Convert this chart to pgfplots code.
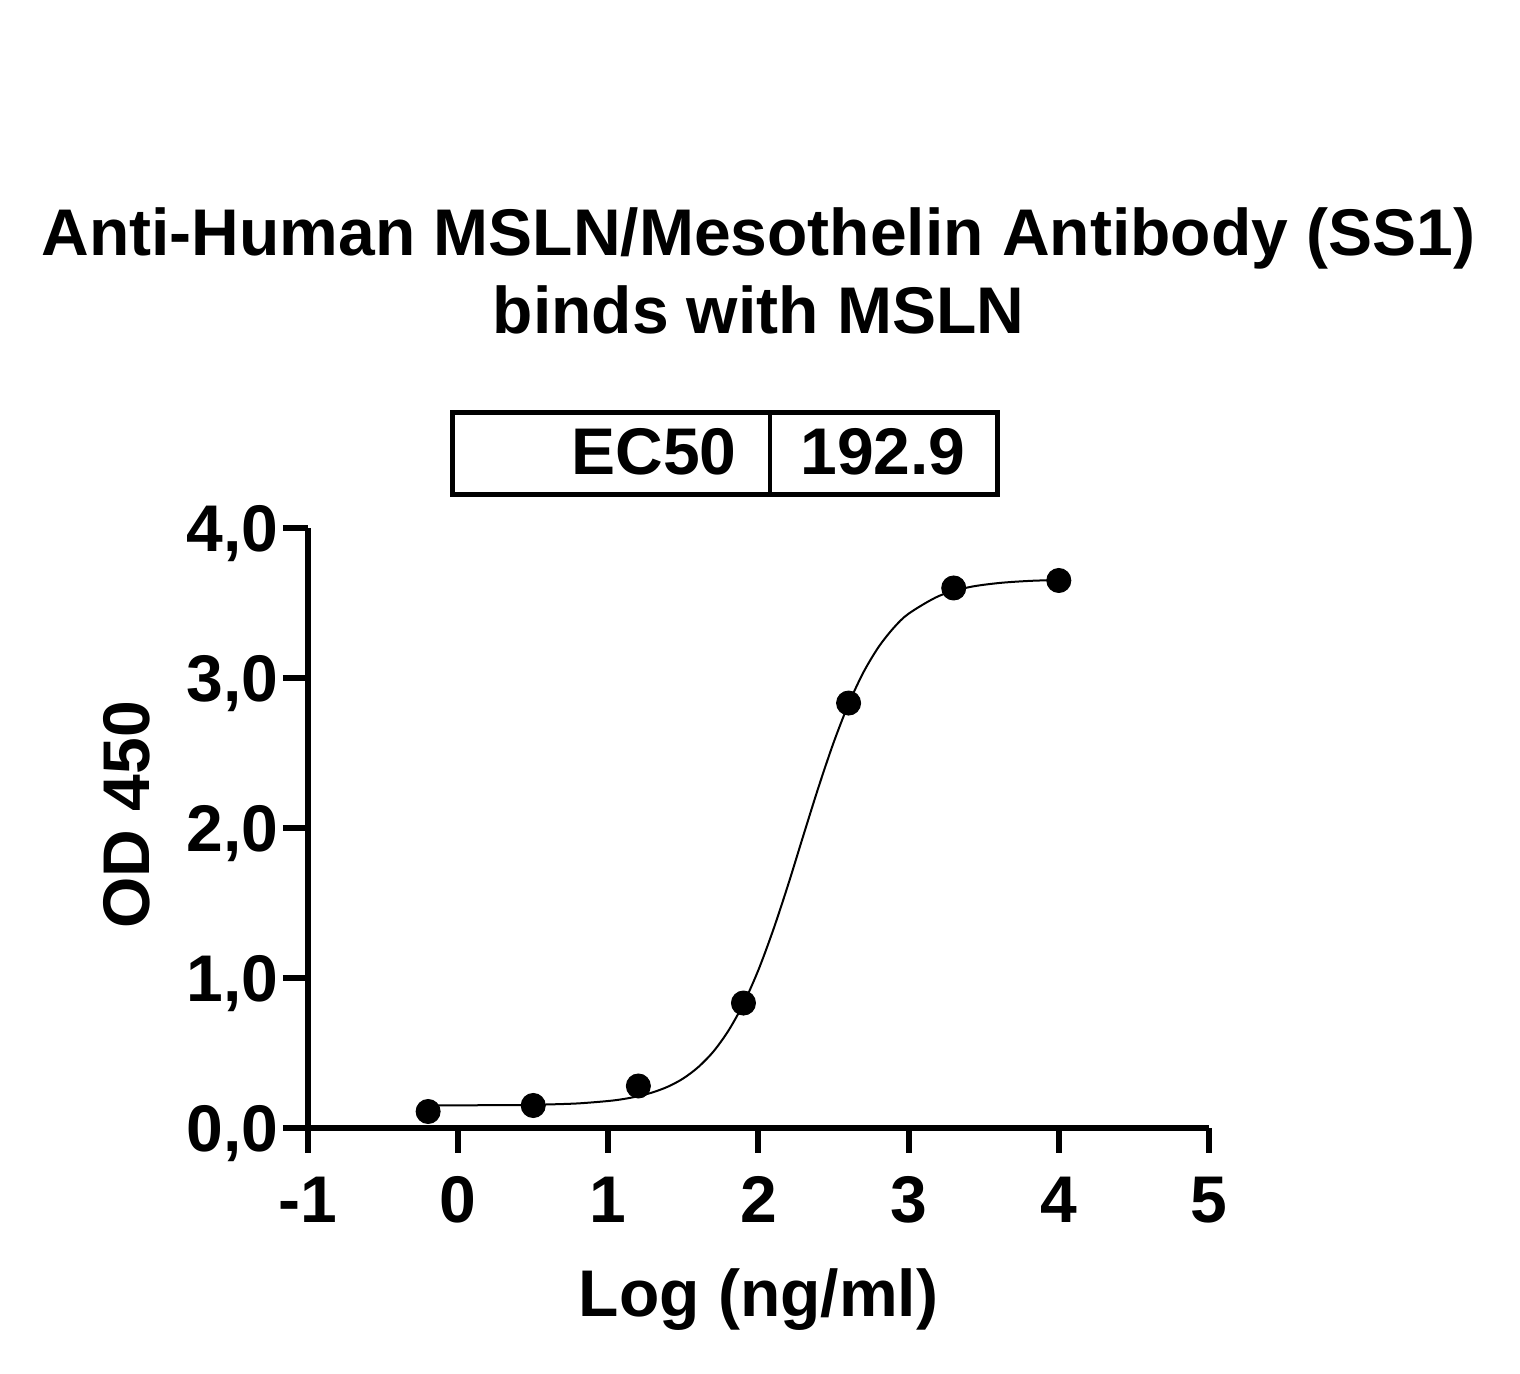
\documentclass[border=0pt]{standalone}
\usepackage{pgfplots}
\pgfplotsset{compat=1.18}
\usepackage{fontspec}
\setmainfont{Liberation Sans}
\begin{document}
\begin{tikzpicture}[font=\fontsize{33}{39}\selectfont\bfseries]
\path[use as bounding box] (-154pt,-123pt) rectangle (606pt,564pt);
\begin{axis}[
  at={(0pt,0pt)}, anchor=south west,
  scale only axis, width=450.5pt, height=300pt,
  xmin=-1, xmax=5, ymin=0, ymax=4,
  line width=3pt,
  axis lines*=left,
  axis line style={line width=3pt, black},
  tick style={line width=3pt, black},
  tick align=outside,
  major tick length=12.5pt,
  minor tick num=0,
  xtick={-1,0,1,2,3,4,5},
  xticklabels={-1,0,1,2,3,4,5},
  ytick={0,1,2,3,4},
  yticklabels={{0,0},{1,0},{2,0},{3,0},{4,0}},
  yticklabel style={anchor=base east, yshift=-11.8pt, xshift=2.5pt},
  xticklabel style={anchor=north, yshift=-7pt},
  xlabel={Log (ng/ml)},
  xlabel style={at={(axis description cs:0.5,0)}, anchor=base, yshift=-94.5pt},
  ylabel={OD 450},
  ylabel style={at={(axis description cs:-0.2009,0.522)}, anchor=center, rotate=0},
  title={Anti-Human MSLN/Mesothelin Antibody (SS1)\\binds with MSLN},
  title style={at={(axis description cs:0.5,1)}, anchor=south, yshift=89.5pt, inner sep=0pt, align=center},
  clip=false,
]
\addplot[black, line width=1pt, smooth, no marks] coordinates {
(-0.2,0.150) (0.0,0.151) (0.2,0.152) (0.4,0.153) (0.6,0.157) (0.8,0.164)
(1.0,0.180) (1.1,0.193) (1.2,0.212) (1.3,0.239) (1.4,0.277) (1.5,0.331)
(1.6,0.407) (1.7,0.510) (1.8,0.649) (1.9,0.829) (2.0,1.055) (2.1,1.326)
(2.2,1.630) (2.3,1.954) (2.4,2.273) (2.5,2.569) (2.6,2.827) (2.7,3.040)
(2.8,3.207) (2.9,3.334) (3.0,3.429) (3.2,3.546) (3.4,3.605) (3.6,3.633)
(3.8,3.647) (4.0,3.654)
};
\addplot[only marks, mark=*, mark size=6pt, black, line width=0.5pt] coordinates {
(-0.2,0.110) (0.5,0.150) (1.2,0.280) (1.9,0.833) (2.6,2.833) (3.3,3.600) (4.0,3.650)
};
\end{axis}
\draw[line width=2.5pt] (72.25pt,316.75pt) rectangle (344.75pt,357.75pt);
\draw[line width=1.75pt] (231pt,316.75pt) -- (231pt,357.75pt);
\node[anchor=base east, inner sep=0pt] at (214.5pt,326.5pt) {EC50};
\node[anchor=base, inner sep=0pt] at (287.5pt,326.5pt) {192.9};
\end{tikzpicture}
\end{document}
